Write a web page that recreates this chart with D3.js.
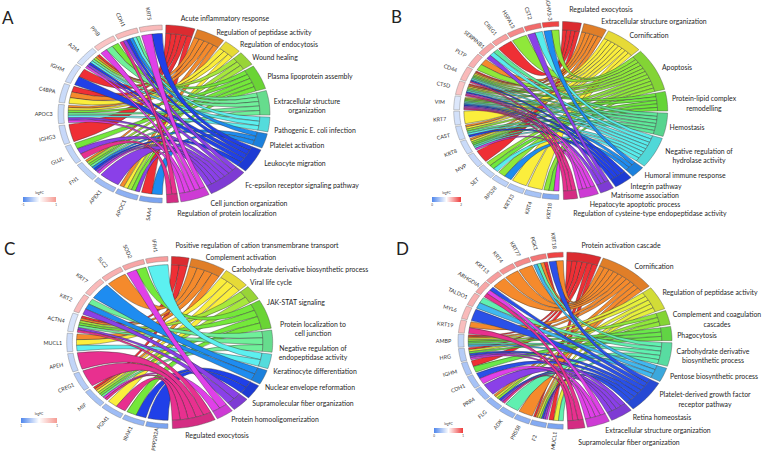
<!DOCTYPE html>
<html><head><meta charset="utf-8">
<script src="https://cdn.jsdelivr.net/npm/d3@7"></script>
<style>html,body{margin:0;padding:0;background:#fff}svg{display:block}text{font-family:Lato,"Open Sans",sans-serif}</style>
</head><body><svg id="c" width="765" height="451"></svg>
<script>
// ---- data: panel A
const aGenes=["KRT5","CDH1","PPIB","A2M","IGHM","C4BPA","APOC3","IGHG3","GLUL","FN1","APEX1","APOC1","SAA4"];
const aLogFC=[.35,.35,.3,-.25,-.28,-.3,-.3,-.32,-.35,-.4,-.55,-.65,-.75];
const aMembers=[[8,10],[5,6,7,8,9,11],[4,5,10],[0,1,3,5,6,8,9,10],[0,8],[0,1,2],[1,2,4,5,6,9,10],[0],[4,9,11],[1,3,4,5,7,8,9,10],[9],[1,2,3,4,9],[0,7]];
const aTerms=["Acute inflammatory response","Regulation of peptidase activity","Regulation of endocytosis","Wound healing","Plasma lipoprotein assembly","Extracellular structure|organization","Pathogenic E. coli infection","Platelet activation","Leukocyte migration","Fc-epsilon receptor signaling pathway","Cell junction organization","Regulation of protein localization"];
const aColors=["#ef2f35","#f58a2c","#fbee3c","#a6e83c","#74e83a","#6ff09a","#5cf0f0","#1e8cf0","#2040e8","#8a40e8","#e040e8","#e8308f"];
// ---- data: panel B
const bGenes=["IGHV3-3","CST2","HSPA13","CREG1","SERPINB1","PLTP","CD44","CTSD","VIM","KRT7","CAST","KRT8","MVP","SET","RPS28","KRT13","KRT4","KRT18"];
const bLogFC=[.95,.75,.6,.5,.45,.4,.35,.3,-.2,-.25,-.3,-.3,-.33,-.35,-.38,-.42,-.5,-.7];
const bMembers=[[3,7],[6,9],[3],[0],[5,6,9],[1,3],[0,1,2,3,4,5,6,8,11],[0,1,2,3,5,6,8,10,11],[2,3,4,5,6,7,8,9,10,11],[2],[1,2,3,5,6,8],[1,2,3,4,5,6,10],[0],[3,4,6],[3,7],[2],[2],[3,4,10]];
const bTerms=["Regulated exocytosis","Extracellular structure organization","Cornification","Apoptosis","Protein-lipid complex|remodelling","Hemostasis","Negative regulation of|hydrolase activity","Humoral immune response","Integrin pathway","Matrisome association","Hepatocyte apoptotic process","Regulation of cysteine-type endopeptidase activity"];
const bColors=["#ef2f35","#f58a2c","#fbee3c","#8fe83a","#6ee83c","#5fe89a","#58ecec","#1e8cf0","#2040e8","#8a40e8","#e040e8","#e8308f"];
// ---- data: panel C
const cGenes=["IFIH1","SOD2","SLC2","KRT7","KRT2","ACTN4","MUCL1","APEH","CREG1","MIF","PGM1","IRAK1","PPP2R2A"];
const cLogFC=[.5,.45,.4,.35,.35,-.22,-.28,-.35,-.42,-.5,-.55,-.6,-.75];
const cMembers=[[6],[4,10],[1],[7],[5,7,9],[0,1,3,4,5,9,11],[1,2,6],[11],[11],[0,1,2,3,4,5,10,11],[2,11],[4,8],[8]];
const cTerms=["Positive regulation of cation transmembrane transport","Complement activation","Carbohydrate derivative biosynthetic process","Viral life cycle","JAK-STAT signaling","Protein localization to|cell junction","Negative regulation of|endopeptidase activity","Keratinocyte differentiation","Nuclear envelope reformation","Supramolecular fiber organization","Protein homooligomerization","Regulated exocytosis"];
const cColors=["#ef2f35","#f58a2c","#fbee3c","#a6e83c","#74e83a","#6ff09a","#5cf0f0","#1e8cf0","#2040e8","#8a40e8","#e040e8","#e8308f"];
// ---- data: panel D
const dGenes=["KRT18","PGK1","KRT77","KRT4","KRT13","ARHGDIA","TALDO1","MYL6","KRT19","AMBP","HRG","IGHM","CDH1","PRR4","FLG","ADK","PRSS8","F2","MUCL1"];
const dLogFC=[.95,.7,.6,.55,.5,.45,.4,.35,.33,-.35,-.42,-.48,-.5,-.55,-.6,-.62,-.65,-.7,-.75];
const dMembers=[[1,7],[0,1,5,6],[1],[1],[1],[7,9,10],[5,6],[7],[1,10],[0,1,2,3,4,5,6],[0,2,4,7,8,9],[0,4],[7,9],[8],[1,2,3,7,8,10],[5],[1],[0,1,2,3,7,8,9],[0,2,5]];
const dTerms=["Protein activation cascade","Cornification","Regulation of peptidase activity","Complement and coagulation|cascades","Phagocytosis","Carbohydrate derivative|biosynthetic process","Pentose biosynthetic process","Platelet-derived growth factor|receptor pathway","Retina homeostasis","Extracellular structure organization","Supramolecular fiber organization"];
const dColors=["#ef2f35","#f58a2c","#e6f03c","#90e83a","#6ae84a","#60f0b0","#40b8f0","#2a50e8","#8a40e8","#e040e8","#e8308f"];
const legendTicks={a:["-1","1"],b:["0","2"],c:["1","1"],d:["0","1"]};

// ---- layout (not data)
const panels=[
 {id:"A",genes:aGenes,fc:aLogFC,mem:aMembers,terms:aTerms,colors:aColors,ticks:legendTicks.a,cx:164,cy:114,rx:106,ry:89,letter:[2,24],legend:[23,197,33],hi:"#f59a92",
  lx:[225,264,279,275,310,307,315,297,295,302,249,227],ly:[18,32,44,57,76,105.5,130,145,163,185,203,213]},
 {id:"B",genes:bGenes,fc:bLogFC,mem:bMembers,terms:bTerms,colors:bColors,ticks:legendTicks.b,cx:560.7,cy:110.5,rx:107,ry:89,letter:[391,23],legend:[432,197,29],hi:"#ee3a3a",
  lx:[601,654,649,677,704,687,699,685,656,645,635,650],ly:[9,21,35,67,103,127,155.5,175,186,195,204,213]},
 {id:"C",genes:cGenes,fc:cLogFC,mem:cMembers,terms:cTerms,colors:cColors,ticks:legendTicks.c,cx:169.7,cy:342.5,rx:103,ry:86,letter:[4,255],legend:[21,418,36],hi:"#f59a92",
  lx:[257,241,300,271,296,313,313,315,310,303,275,217],ly:[245,257,269,282,302,328.5,352.5,371,387,403,419,435]},
 {id:"D",genes:dGenes,fc:dLogFC,mem:dMembers,terms:dTerms,colors:dColors,ticks:legendTicks.d,cx:565,cy:340.7,rx:107,ry:88.5,letter:[396,255],legend:[434,428,29],hi:"#ee3a3a",
  lx:[621,654,710,717,697,713,714,705,662,658,629],ly:[245,266,292,319,335,355.5,376,399,417,430,442]}
];
const GAP=1.3,R_CHORD=.905,R_GIN=.945,TEXT="#1f1f1f";
const fcColor=d3.scaleLinear().domain([-1,0,1]).range(["#4f86ec","#ffffff","#ee3a3a"]);
const svg=d3.select("#c");
const defs=svg.append("defs");

panels.forEach(p=>{
 const grad=defs.append("linearGradient").attr("id","lg"+p.id);
 [["0%","#4f86ec"],["50%","#ffffff"],["100%",p.hi]].forEach(s=>grad.append("stop").attr("offset",s[0]).attr("stop-color",s[1]));
 const g=svg.append("g");
 const X=d3.scaleLinear().domain([-1,1]).range([p.cx-p.rx,p.cx+p.rx]);
 const Y=d3.scaleLinear().domain([-1,1]).range([p.cy-p.ry,p.cy+p.ry]);
 const pt=(t,r)=>{const a=t*Math.PI/180;return [X(r*Math.sin(a)),Y(-r*Math.cos(a))];};
 const arcTo=(ctx,a,b,r)=>{const n=Math.max(2,Math.ceil(Math.abs(b-a)/1.5));for(let i=1;i<=n;i++){const q=pt(a+(b-a)*i/n,r);ctx.lineTo(q[0],q[1]);}};
 const counts=p.terms.map((_,ti)=>p.mem.filter(m=>m.includes(ti)).length);
 const total=d3.sum(counts);
 const tAngle=d3.scaleLinear().domain([0,total]).range([1,178.5-(p.terms.length-1)*GAP]);
 let used=0;
 const tStart=counts.map((c,i)=>{const s=tAngle(used)+i*GAP;used+=c;return s;});
 const unit=tAngle(1)-tAngle(0);
 const gAngle=d3.scaleBand().domain(d3.range(p.genes.length)).range([359,181]).paddingInner(.09).paddingOuter(0);
 // chords
 const rank=p.terms.map(()=>0);
 const chords=[];
 p.genes.forEach((_,gi)=>{
  const m=p.mem[gi],bw=gAngle.bandwidth();
  const top=gAngle(gi)+bw;
  m.forEach((ti,j)=>{
   const c1=top-bw*j/m.length,c2=top-bw*(j+1)/m.length;
   const a=tStart[ti]+rank[ti]*unit,b=a+unit;rank[ti]++;
   chords.push({gi,ti,c1,c2,a,b});
  });
 });
 chords.sort((u,v)=>u.ti-v.ti||u.gi-v.gi);
 g.selectAll("path.ch").data(chords).join("path").attr("class","ch")
  .attr("fill",d=>p.colors[d.ti]).attr("stroke","#2b2b2b").attr("stroke-width",.4)
  .attr("d",d=>{const ctx=d3.path();const s=pt(d.c1,R_CHORD),t=pt(d.a,R_CHORD),u=pt(d.b,R_CHORD),v=pt(d.c2,R_CHORD);
    ctx.moveTo(s[0],s[1]);ctx.quadraticCurveTo(X(0),Y(0),t[0],t[1]);arcTo(ctx,d.a,d.b,R_CHORD);
    ctx.quadraticCurveTo(X(0),Y(0),v[0],v[1]);arcTo(ctx,d.c2,d.c1,R_CHORD);ctx.closePath();return ctx.toString();});
 const seg=(a,b,r0,r1)=>{const ctx=d3.path(),s=pt(a,r1);ctx.moveTo(s[0],s[1]);arcTo(ctx,a,b,r1);const e=pt(b,r0);ctx.lineTo(e[0],e[1]);arcTo(ctx,b,a,r0);ctx.closePath();return ctx.toString();};
 // term ring
 g.selectAll("path.tr").data(p.terms).join("path").attr("class","tr")
  .attr("fill",(d,i)=>d3.color(p.colors[i]).darker(.25).formatHex()).attr("stroke","#4a4a4a").attr("stroke-width",.4)
  .attr("d",(d,i)=>seg(tStart[i],tStart[i]+counts[i]*unit,R_CHORD,1));
 // gene ring
 g.selectAll("path.gr").data(p.genes).join("path").attr("class","gr")
  .attr("fill",(d,i)=>fcColor(p.fc[i])).attr("stroke","#777").attr("stroke-width",.4)
  .attr("d",(d,i)=>seg(gAngle(i),gAngle(i)+gAngle.bandwidth(),R_GIN,1));
 // gene labels
 g.selectAll("text.gl").data(p.genes).join("text").attr("class","gl")
  .attr("font-size",5.4).attr("fill","#333").attr("text-anchor","middle").attr("dominant-baseline","central")
  .attr("transform",(d,i)=>{const t=gAngle(i)+gAngle.bandwidth()/2,q=pt(t,1.135);
    const rot=Math.atan2(p.cy-q[1],p.cx-q[0])*180/Math.PI;return `translate(${q[0]},${q[1]}) rotate(${rot})`;})
  .text(d=>d);
 // term labels
 p.terms.forEach((t,i)=>{
  const lines=t.split("|"),lh=9.5;
  lines.forEach((s,k)=>g.append("text").attr("x",p.lx[i]).attr("y",p.ly[i]+(k-(lines.length-1)/2)*lh)
   .attr("text-anchor","middle").attr("dominant-baseline","central").attr("font-size",6.9).attr("fill",TEXT).text(s));
 });
 // panel letter
 g.append("text").attr("x",p.letter[0]).attr("y",p.letter[1]).attr("font-size",17).attr("fill","#222").text(p.id);
 // legend
 const [lx,ly,lw]=p.legend;
 g.append("rect").attr("x",lx).attr("y",ly).attr("width",lw).attr("height",5).attr("fill",`url(#lg${p.id})`);
 g.append("text").attr("x",lx+lw/2).attr("y",ly-3).attr("text-anchor","middle").attr("font-size",3.4).attr("fill","#444").text("logFC");
 p.ticks.forEach((tk,i)=>g.append("text").attr("x",lx+i*lw).attr("y",ly+9).attr("text-anchor","middle").attr("font-size",3).attr("fill","#444").text(tk));
});
</script></body></html>
